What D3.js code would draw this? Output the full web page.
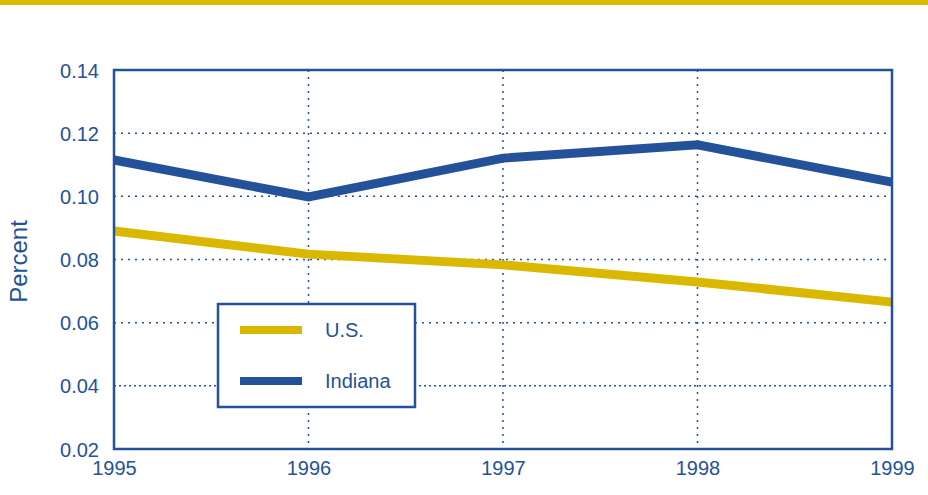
<!DOCTYPE html>
<html>
<head>
<meta charset="utf-8">
<script src="https://cdn.jsdelivr.net/npm/d3@7"></script>
<style>
  body { margin: 0; background: #fff; }
  text { font-family: "Liberation Sans", Arial, sans-serif; fill: #24529a; }
</style>
</head>
<body>
<div id="chart"></div>
<script>
// data
let years = [1995, 1996, 1997, 1998, 1999];
let usValues = [0.089, 0.0817, 0.0783, 0.0729, 0.0665];
let indianaValues = [0.1115, 0.0998, 0.1121, 0.1163, 0.1045];
let yTicks = [0.02, 0.04, 0.06, 0.08, 0.10, 0.12, 0.14];
let seriesNames = ["U.S.", "Indiana"];

let blue = "#24529a", gold = "#dab800";

let W = 928, H = 495;
let margin = {top: 70, right: 36, bottom: 46, left: 114},
    width = W - margin.left - margin.right,
    height = H - margin.top - margin.bottom;

let root = d3.select("#chart").append("svg")
    .attr("width", W)
    .attr("height", H);

// gold band across the top
root.append("rect")
    .attr("x", 0).attr("y", 0)
    .attr("width", W).attr("height", 5)
    .attr("fill", gold);

let svg = root.append("g")
    .attr("transform", "translate(" + margin.left + "," + margin.top + ")");

let x = d3.scaleLinear()
    .domain([1995, 1999])
    .range([0, width]);

let y = d3.scaleLinear()
    .domain([0.02, 0.14])
    .range([height, 0]);

// dotted grid
svg.append("g")
  .selectAll("line")
  .data(yTicks.slice(1, -1))
  .enter().append("line")
    .attr("x1", 0).attr("x2", width)
    .attr("y1", d => y(d)).attr("y2", d => y(d))
    .attr("stroke", blue)
    .attr("stroke-width", 1.5)
    .attr("stroke-dasharray", d => d === 0.04 ? "2,3" : "2,5");

svg.append("g")
  .selectAll("line")
  .data(years.slice(1, -1))
  .enter().append("line")
    .attr("x1", d => x(d)).attr("x2", d => x(d))
    .attr("y1", 0).attr("y2", height)
    .attr("stroke", blue)
    .attr("stroke-width", 1.5)
    .attr("stroke-dasharray", "2,5");

// axes
let yAxis = svg.append("g")
    .call(d3.axisLeft(y).tickValues(yTicks).tickFormat(d3.format(".2f")).tickSize(0).tickPadding(15));
yAxis.select(".domain").remove();
yAxis.selectAll("text").attr("font-size", 20).attr("dy", "0.35em");

let xAxis = svg.append("g")
    .attr("transform", "translate(0," + height + ")")
    .call(d3.axisBottom(x).tickValues(years).tickFormat(d3.format("d")).tickSize(0).tickPadding(12));
xAxis.select(".domain").remove();
xAxis.selectAll("text").attr("font-size", 20);

// lines
let line = d3.line()
    .x((d, i) => x(years[i]))
    .y(d => y(d));

svg.append("path")
    .datum(usValues)
    .attr("d", line)
    .attr("fill", "none")
    .attr("stroke", gold)
    .attr("stroke-width", 9);

svg.append("path")
    .datum(indianaValues)
    .attr("d", line)
    .attr("fill", "none")
    .attr("stroke", blue)
    .attr("stroke-width", 9);

// frame
svg.append("rect")
    .attr("width", width).attr("height", height)
    .attr("fill", "none")
    .attr("stroke", blue)
    .attr("stroke-width", 2.5);

// y label
root.append("text")
    .attr("transform", "translate(27," + (margin.top + height / 2 + 2) + ") rotate(-90)")
    .attr("text-anchor", "middle")
    .attr("font-size", 24)
    .text("Percent");

// legend
let legend = root.append("g")
    .attr("transform", "translate(218,304)");
legend.append("rect")
    .attr("width", 197).attr("height", 103)
    .attr("fill", "#fff")
    .attr("stroke", blue)
    .attr("stroke-width", 2.5);

let colors = [gold, blue];
let item = legend.selectAll(".item")
  .data(seriesNames)
  .enter().append("g")
    .attr("transform", (d, i) => "translate(0," + (26 + i * 51) + ")");
item.append("line")
    .attr("x1", 22).attr("x2", 84)
    .attr("stroke", (d, i) => colors[i])
    .attr("stroke-width", 8);
item.append("text")
    .attr("x", 107)
    .attr("dy", "0.35em")
    .attr("font-size", 20)
    .text(d => d);
</script>
</body>
</html>
